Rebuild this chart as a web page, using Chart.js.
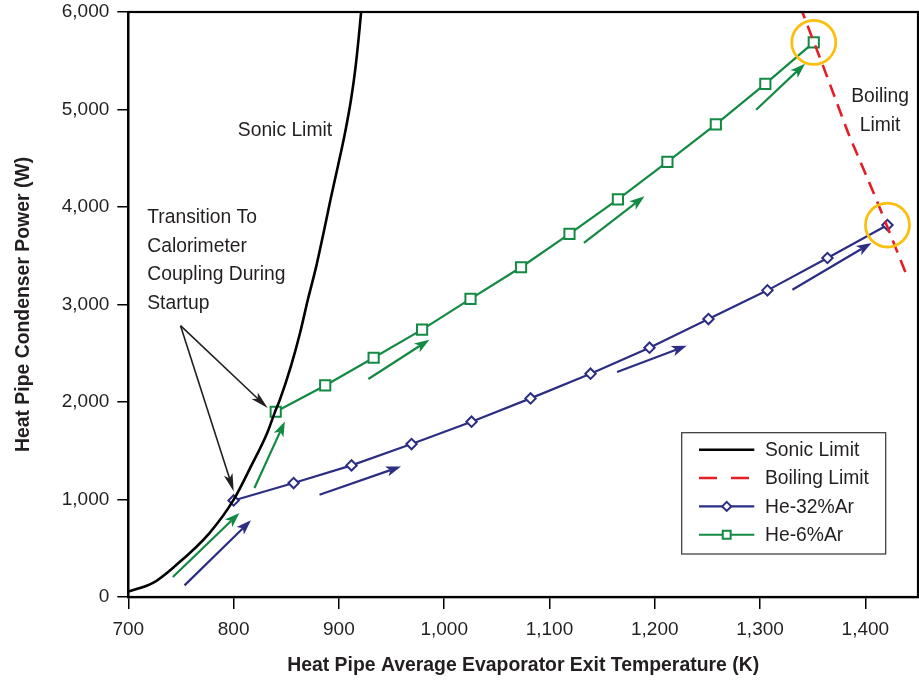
<!DOCTYPE html>
<html><head><meta charset="utf-8">
<script src="https://cdn.jsdelivr.net/npm/chart.js@4.4.1/dist/chart.umd.min.js"></script>
<style>html,body{margin:0;padding:0;background:#fff;overflow:hidden}canvas{display:block}</style>
</head><body>
<canvas id="c" width="919" height="698"></canvas>
<script>
// ---------- data ----------
const xTicks = [700, 800, 900, 1000, 1100, 1200, 1300, 1400];
const yTicks = [0, 1000, 2000, 3000, 4000, 5000, 6000];

const sonicT = [700, 723.4, 744, 777.1, 800.1, 816.5, 831.9, 839.5, 844, 854.4, 863.1, 870.5, 878.5, 885.4, 892, 899, 905.8, 911.5, 915.9, 921.1, 924];
const sonicP = [55, 144, 314, 656, 998, 1339, 1682, 1904, 2024, 2365, 2708, 3049, 3391, 3733, 4074, 4416, 4759, 5100, 5442, 6000, 6400];

const boilT = [1338, 1360, 1383.7, 1410.6, 1439];
const boilP = [6060, 5442, 4759, 4074, 3306];

const he32T = [800, 857, 912, 969, 1026, 1082, 1139, 1195, 1251, 1307, 1364, 1421];
const he32P = [990, 1169, 1350, 1569, 1798, 2037, 2290, 2557, 2851, 3145, 3477, 3815];

const he6T = [840, 887, 933, 979, 1025, 1073, 1119, 1165, 1212, 1258, 1305, 1351];
const he6P = [1900, 2170, 2454, 2742, 3058, 3382, 3725, 4079, 4462, 4847, 5262, 5688];

// highlighted end points (yellow circles)
const hiT = [1351, 1421];
const hiP = [5688, 3815];

// direction arrows [x1, y1, x2, y2] in data units
const greenArrows = [[742.3, 205, 805.5, 862], [819.8, 1118, 848.7, 1801], [928, 2236, 986, 2639], [1132.7, 3631, 1190.2, 4109], [1296.3, 4998, 1342.7, 5470]];
const navyArrows = [[753.4, 119, 816.5, 786], [881.6, 1049, 959, 1339], [1164.2, 2308, 1230.3, 2577], [1330.7, 3152, 1405.8, 3631]];
const noteArrows = [[749.6, 2783, 800.1, 1083], [749.6, 2783, 832.4, 1938]];

// text notes: [x, y, lines, align]
const notes = [
  [804, 4783, ['Sonic Limit'], 'left'],
  [718, 3889, ['Transition To', 'Calorimeter', 'Coupling During', 'Startup'], 'left'],
  [1414, 5128, ['Boiling', 'Limit'], 'center']
];

// ---------- style ----------
function hasFont(name){
  const c = document.createElement('canvas').getContext('2d');
  const s = 'abcdefghijklmnopqrstuvwxyzABCDEFG0123456789';
  c.font = '40px monospace'; const a = c.measureText(s).width;
  c.font = '40px "' + name + '", monospace'; const b = c.measureText(s).width;
  c.font = '40px serif'; const d = c.measureText(s).width;
  c.font = '40px "' + name + '", serif'; const e = c.measureText(s).width;
  return a !== b || d !== e;
}
const NARROW = hasFont('Liberation Sans Narrow');
const FAM = NARROW ? '"Liberation Sans Narrow", "Arial Narrow", sans-serif' : '"Liberation Sans", Arial, sans-serif';
const REG = NARROW ? 23 : 19.3;
const TICK = NARROW ? 23 : 19;
const BOLD = NARROW ? 24 : 19.4;
const TXT = '#231f20';
const NAVY = '#2b2e83', GREEN = '#138a43', RED = '#e41e26', YELLOW = '#fbbf0f';

function pts(xs, ys){ return xs.map((x, i) => ({x: x, y: ys[i]})); }

function drawArrow(ctx, x1, y1, x2, y2, color, lw, hl, hw){
  const a = Math.atan2(y2 - y1, x2 - x1), c = Math.cos(a), s = Math.sin(a);
  const bx = x2 - hl * c, by = y2 - hl * s;
  const nx = x2 - hl * 0.75 * c, ny = y2 - hl * 0.75 * s;
  ctx.strokeStyle = color; ctx.fillStyle = color; ctx.lineWidth = lw; ctx.setLineDash([]);
  ctx.beginPath(); ctx.moveTo(x1, y1); ctx.lineTo(nx, ny); ctx.stroke();
  ctx.beginPath(); ctx.moveTo(x2, y2);
  ctx.lineTo(bx + hw / 2 * s, by - hw / 2 * c);
  ctx.lineTo(nx, ny);
  ctx.lineTo(bx - hw / 2 * s, by + hw / 2 * c);
  ctx.closePath(); ctx.fill();
}

function marker(ctx, style, x, y, r, color, lw){
  ctx.save(); ctx.setLineDash([]); ctx.fillStyle = '#fff'; ctx.strokeStyle = color; ctx.lineWidth = lw;
  ctx.beginPath();
  if (style === 'rect'){ const h = r * Math.SQRT1_2; ctx.rect(x - h, y - h, 2 * h, 2 * h); }
  else { ctx.moveTo(x, y - r); ctx.lineTo(x + r, y); ctx.lineTo(x, y + r); ctx.lineTo(x - r, y); ctx.closePath(); }
  ctx.fill(); ctx.stroke(); ctx.restore();
}

const decor = {
  id: 'decor',
  afterDatasetsDraw(chart){
    const ctx = chart.ctx, xs = chart.scales.x, ys = chart.scales.y, ca = chart.chartArea;
    ctx.save();
    greenArrows.forEach(a => drawArrow(ctx, xs.getPixelForValue(a[0]), ys.getPixelForValue(a[1]), xs.getPixelForValue(a[2]), ys.getPixelForValue(a[3]), GREEN, 2.2, 15, 10.5));
    navyArrows.forEach(a => drawArrow(ctx, xs.getPixelForValue(a[0]), ys.getPixelForValue(a[1]), xs.getPixelForValue(a[2]), ys.getPixelForValue(a[3]), NAVY, 2.2, 15, 10.5));
    noteArrows.forEach(a => drawArrow(ctx, xs.getPixelForValue(a[0]), ys.getPixelForValue(a[1]), xs.getPixelForValue(a[2]), ys.getPixelForValue(a[3]), TXT, 1.6, 18, 9));
    ctx.fillStyle = TXT; ctx.font = REG + 'px ' + FAM; ctx.textBaseline = 'middle';
    notes.forEach(n => {
      ctx.textAlign = n[3];
      const x = xs.getPixelForValue(n[0]), y = ys.getPixelForValue(n[1]);
      n[2].forEach((t, i) => ctx.fillText(t, x, y + i * 28.6));
    });
    // frame
    ctx.strokeStyle = '#000'; ctx.lineWidth = 2.2; ctx.setLineDash([]);
    ctx.strokeRect(ca.left, ca.top, ca.right - ca.left, ca.bottom - ca.top);
    // legend box
    const L = ca.right - 236.3, T = ca.bottom - 164.3, W = 204, H = 121.3;
    ctx.fillStyle = '#fff'; ctx.fillRect(L, T, W, H);
    ctx.strokeStyle = '#333'; ctx.lineWidth = 1.2; ctx.strokeRect(L, T, W, H);
    const items = chart.data.datasets.filter(d => d.inLegend);
    items.forEach((d, i) => {
      const y = T + 17 + i * 28.35;
      ctx.strokeStyle = d.borderColor; ctx.lineWidth = d.borderWidth;
      ctx.setLineDash(d.borderDash ? [18, 14] : []);
      ctx.beginPath(); ctx.moveTo(L + 17.3, y); ctx.lineTo(L + 72.6, y); ctx.stroke();
      ctx.setLineDash([]);
      if (d.pointRadius > 0) marker(ctx, d.pointStyle, L + 45, y, d.pointStyle === 'rect' ? 5.6 : 4.5, d.borderColor, 2);
      ctx.fillStyle = TXT; ctx.font = REG + 'px ' + FAM; ctx.textAlign = 'left'; ctx.textBaseline = 'middle';
      ctx.fillText(d.label, L + 83.3, y + 1);
    });
    ctx.restore();
  }
};

new Chart(document.getElementById('c'), {
  type: 'scatter',
  data: {
    datasets: [
      {label: 'Sonic Limit', inLegend: true, data: pts(sonicT, sonicP), showLine: true, borderColor: '#000', borderWidth: 2.6, pointRadius: 0, cubicInterpolationMode: 'monotone'},
      {label: 'Boiling Limit', inLegend: true, data: pts(boilT, boilP), showLine: true, borderColor: RED, borderWidth: 2.6, borderDash: [13, 8], pointRadius: 0},
      {label: 'He-32%Ar', inLegend: true, data: pts(he32T, he32P), showLine: true, borderColor: NAVY, borderWidth: 2.2, pointStyle: 'rectRot', pointRadius: 5.2, pointBorderWidth: 2, pointBackgroundColor: '#fff', pointBorderColor: NAVY},
      {label: 'He-6%Ar', inLegend: true, data: pts(he6T, he6P), showLine: true, borderColor: GREEN, borderWidth: 2.2, pointStyle: 'rect', pointRadius: 7.2, pointBorderWidth: 2, pointBackgroundColor: '#fff', pointBorderColor: GREEN},
      {label: 'highlight', inLegend: false, data: pts(hiT, hiP), showLine: false, pointStyle: 'circle', pointRadius: 22, pointBorderWidth: 2.8, pointBorderColor: YELLOW, pointBackgroundColor: 'rgba(0,0,0,0)', order: -1}
    ]
  },
  options: {
    responsive: false, animation: false, devicePixelRatio: 1,
    layout: {autoPadding: false, padding: {top: 12, right: 1, left: 0, bottom: 0}},
    plugins: {legend: {display: false}, tooltip: {enabled: false}},
    scales: {
      x: {
        type: 'linear', min: 700, max: 1450,
        afterBuildTicks: s => { s.ticks = xTicks.map(v => ({value: v})); },
        afterFit: s => { s.height = 101; s.paddingLeft = 0; s.paddingRight = 0; },
        grid: {drawOnChartArea: false, drawTicks: true, tickLength: 12, color: '#000', lineWidth: 1.5},
        border: {display: true, color: '#000', width: 2.2},
        ticks: {color: TXT, font: {family: FAM, size: TICK}, padding: 9, maxRotation: 0, autoSkip: false,
                callback: v => v.toLocaleString('en-US')},
        title: {display: true, text: 'Heat Pipe Average Evaporator Exit Temperature (K)', color: TXT,
                font: {family: FAM, size: BOLD, weight: 'bold'}, padding: {top: 0, bottom: 21}}
      },
      y: {
        type: 'linear', min: 0, max: 6000,
        afterBuildTicks: s => { s.ticks = yTicks.map(v => ({value: v})); },
        afterFit: s => { s.width = 128.3; s.paddingTop = 0; s.paddingBottom = 0; },
        grid: {drawOnChartArea: false, drawTicks: true, tickLength: 11, color: '#000', lineWidth: 1.5},
        border: {display: true, color: '#000', width: 2.2},
        ticks: {color: TXT, font: {family: FAM, size: TICK}, padding: 8, autoSkip: false,
                callback: v => v.toLocaleString('en-US')},
        title: {display: true, text: 'Heat Pipe Condenser Power (W)', color: TXT,
                font: {family: FAM, size: BOLD, weight: 'bold'}, padding: {top: 12, bottom: 0}}
      }
    }
  },
  plugins: [decor]
});
</script>
</body></html>
